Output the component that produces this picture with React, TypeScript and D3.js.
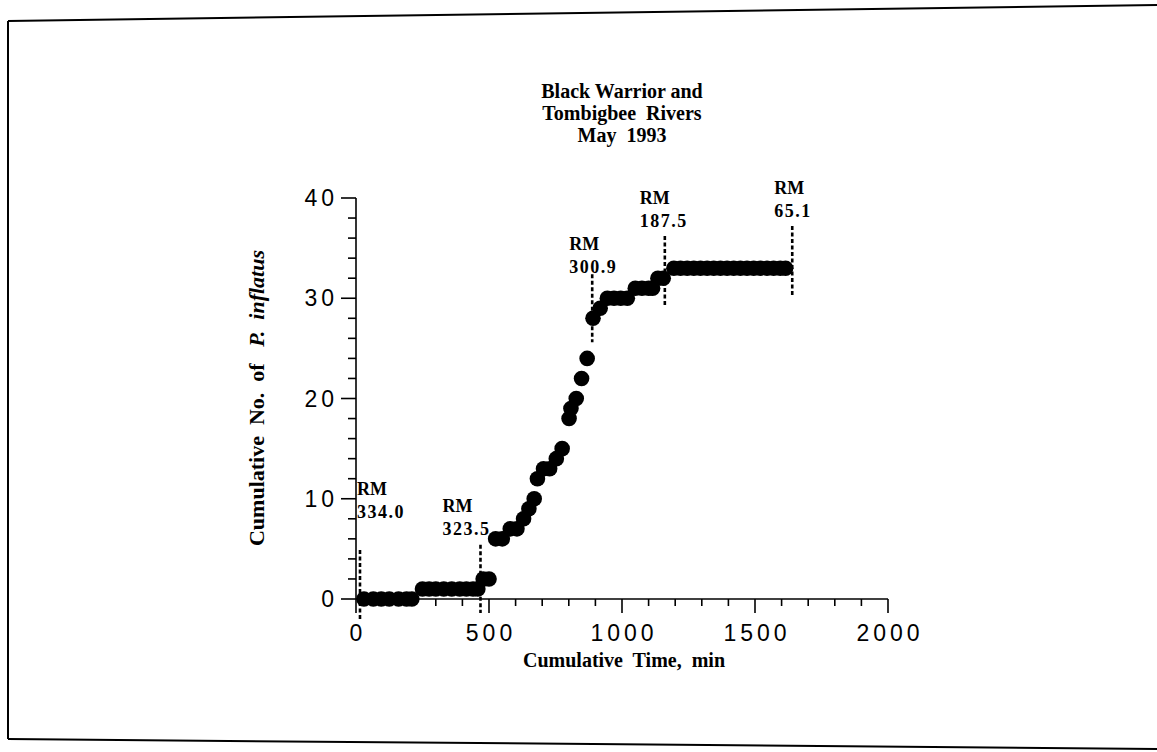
import React from "react";
import * as d3 from "d3";

// ---- data ----
const timeMin = [
  30, 65, 95, 125, 160, 190, 210,
  250, 275, 300, 330, 360, 390, 415, 440, 458,
  478, 500,
  525, 550,
  580, 605,
  630, 650, 670, 682, 705, 728, 753, 775, 801, 808, 828, 848, 869, 891, 918,
  945, 970, 995, 1020,
  1050, 1075, 1100, 1115,
  1135, 1155,
  1195, 1220, 1245, 1270, 1295, 1320, 1345, 1370, 1395, 1420, 1445, 1470, 1495, 1520, 1545, 1570, 1595, 1615,
];
const cumCount = [
  0, 0, 0, 0, 0, 0, 0,
  1, 1, 1, 1, 1, 1, 1, 1, 1,
  2, 2,
  6, 6,
  7, 7,
  8, 9, 10, 12, 13, 13, 14, 15, 18, 19, 20, 22, 24, 28, 29,
  30, 30, 30, 30,
  31, 31, 31, 31,
  32, 32,
  33, 33, 33, 33, 33, 33, 33, 33, 33, 33, 33, 33, 33, 33, 33, 33, 33, 33,
];

const rmNames = ["334.0", "323.5", "300.9", "187.5", "65.1"];
const rmTimes = [15, 468, 888, 1161, 1640];
const rmLineTop = [4.9, 5.4, 32.4, 36.2, 37.2];
const rmLineBottom = [-2.1, -1.4, 25.6, 29.3, 30.2];

const xTickValues = [0, 500, 1000, 1500, 2000];
const yTickValues = [0, 10, 20, 30, 40];
const titleLines = ["Black Warrior and", "Tombigbee  Rivers", "May  1993"];

// ---- layout ----
const labelDx = [-3, -38, -23, -25, -18];
const labelDy = [-32, -10, -1, -9, -9];

const serif = "'Liberation Serif', 'Times New Roman', serif";
const sans = "'Liberation Sans', Arial, sans-serif";

export default function App() {
  const x = d3.scaleLinear().domain([0, 2000]).range([356, 888]);
  const y = d3.scaleLinear().domain([0, 40]).range([599, 198]);

  const xMinor = d3.range(0, 2001, 100).filter((v) => v % 500 !== 0);
  const yMinor = d3.range(0, 41, 2).filter((v) => v % 10 !== 0);

  return (
    <svg
      width={1157}
      height={752}
      style={{ position: "absolute", left: 0, top: 0, background: "#fff" }}
    >
      {/* page frame */}
      <g stroke="#000" fill="none" strokeWidth={2}>
        <line x1={8} y1={21} x2={1157} y2={5} />
        <line x1={8} y1={21} x2={8} y2={739} />
        <line x1={8} y1={739} x2={1157} y2={749} />
      </g>

      {/* title */}
      <g fontFamily={serif} fontWeight="bold" fontSize={20} textAnchor="middle" fill="#000">
        {titleLines.map((t, i) => (
          <text key={i} x={622} y={98 + i * 22} style={{ whiteSpace: "pre" }}>
            {t}
          </text>
        ))}
      </g>

      {/* axes */}
      <g stroke="#000" strokeWidth={1.6}>
        <line x1={x(0)} y1={y(0)} x2={x(2000)} y2={y(0)} />
        <line x1={x(0)} y1={y(0)} x2={x(0)} y2={y(40)} />
        {xTickValues.map((v) => (
          <line key={"xt" + v} x1={x(v)} x2={x(v)} y1={y(0)} y2={y(0) + 14} />
        ))}
        {xMinor.map((v) => (
          <line key={"xm" + v} x1={x(v)} x2={x(v)} y1={y(0)} y2={y(0) + 7} />
        ))}
        {yTickValues.map((v) => (
          <line key={"yt" + v} x1={x(0) - 15} x2={x(0)} y1={y(v)} y2={y(v)} />
        ))}
        {yMinor.map((v) => (
          <line key={"ym" + v} x1={x(0) - 8} x2={x(0)} y1={y(v)} y2={y(v)} />
        ))}
      </g>

      {/* tick labels */}
      <g fontFamily={sans} fontSize={23} fill="#000">
        {xTickValues.map((v) => (
          <text key={"xl" + v} x={x(v) + 2} y={y(0) + 42} textAnchor="middle" letterSpacing={4}>
            {String(v)}
          </text>
        ))}
        {yTickValues.map((v) => (
          <text key={"yl" + v} x={338} y={y(v) + 8} textAnchor="end" letterSpacing={4}>
            {String(v)}
          </text>
        ))}
      </g>

      {/* axis titles */}
      <text
        x={624}
        y={667}
        textAnchor="middle"
        fontFamily={serif}
        fontWeight="bold"
        fontSize={20}
        style={{ whiteSpace: "pre" }}
      >
        {"Cumulative  Time,  min"}
      </text>
      <text
        transform="translate(264,398) rotate(-90)"
        textAnchor="middle"
        fontFamily={serif}
        fontWeight="bold"
        fontSize={22}
        style={{ whiteSpace: "pre" }}
      >
        <tspan>{"Cumulative  No.  of   "}</tspan>
        <tspan fontStyle="italic">{"P.  inflatus"}</tspan>
      </text>

      {/* river-mile markers */}
      <g>
        {rmNames.map((name, i) => {
          const lx = x(rmTimes[i]);
          const top = y(rmLineTop[i]);
          const bottom = y(rmLineBottom[i]);
          const tx = lx + labelDx[i];
          const ty = top + labelDy[i];
          return (
            <g key={name}>
              <line
                x1={lx}
                x2={lx}
                y1={top}
                y2={bottom}
                stroke="#000"
                strokeWidth={2.6}
                strokeDasharray="4 2.5"
              />
              <text x={tx} y={ty - 23} fontFamily={serif} fontWeight="bold" fontSize={18}>
                RM
              </text>
              <text
                x={tx}
                y={ty}
                fontFamily={serif}
                fontWeight="bold"
                fontSize={18}
                letterSpacing={1.5}
              >
                {name}
              </text>
            </g>
          );
        })}
      </g>

      {/* points */}
      <g fill="#000">
        {timeMin.map((t, i) => (
          <circle key={i} cx={x(t)} cy={y(cumCount[i])} r={7.8} />
        ))}
      </g>
    </svg>
  );
}
